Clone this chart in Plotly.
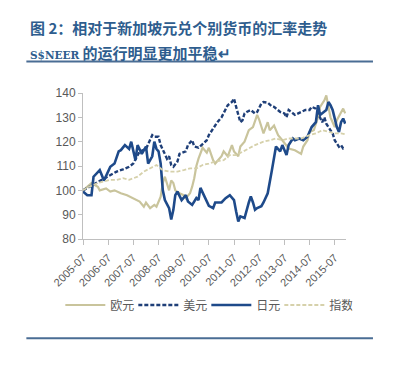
import plotly.graph_objects as go

# ---------------- data ----------------
jpy_dates = ["2005-07","2005-09","2005-11","2005-12","2006-03","2006-05","2006-08","2006-10","2006-12",
             "2007-01","2007-03","2007-05","2007-06","2007-07","2007-08","2007-09","2007-11","2008-01",
             "2008-02","2008-04","2008-05","2008-06","2008-07","2008-08","2008-09","2008-10","2008-12",
             "2009-01","2009-02","2009-03","2009-04","2009-06","2009-08","2009-09","2009-11","2010-01",
             "2010-02","2010-03","2010-05","2010-07","2010-09","2010-10","2011-01","2011-03","2011-05",
             "2011-06","2011-07","2011-08","2011-09","2011-10","2011-12","2012-02","2012-03","2012-04",
             "2012-05","2012-06","2012-08","2012-09","2012-11","2013-01","2013-02","2013-03","2013-05",
             "2013-06","2013-08","2013-09","2013-11","2013-12","2014-02","2014-04","2014-06","2014-07",
             "2014-08","2014-10","2014-11","2014-12","2015-01","2015-03","2015-04","2015-05","2015-06",
             "2015-08","2015-09","2015-10","2015-11","2015-12"]
jpy_vals = [99.5,98,98,105.6,108.3,104,109.7,111,116,
            116.5,118.6,117,120,116,112.4,118.6,115,118,
            111,114,120,117,116,111,100,96,92.7,
            88,92,98,99.5,96,98,95.4,94,96.8,
            96,101,97,93.6,92.7,95,95,96.8,98,
            96.8,96,91.3,87.2,89.3,88.6,95,97.5,95,
            92,92.7,93.5,95,98.8,108.3,113,118,116,
            118.6,114.5,118.6,121.3,120.6,121.3,120.6,122,124,
            126,128,135,131,131.6,133,136.3,135,133,
            126,124,128,129.5,127.4]

usd_dates = ["2005-07","2005-10","2006-02","2006-05","2006-08","2006-11","2007-02","2007-05","2007-07",
             "2007-10","2008-01","2008-02","2008-04","2008-05","2008-07","2008-08","2008-09","2008-11",
             "2008-12","2009-01","2009-02","2009-04","2009-05","2009-08","2009-09","2009-11","2009-12",
             "2010-02","2010-04","2010-06","2010-07","2010-09","2010-11","2011-01","2011-02","2011-04",
             "2011-06","2011-07","2011-08","2011-09","2011-10","2011-11","2011-12","2012-01","2012-03",
             "2012-05","2012-06","2012-08","2012-09","2012-11","2013-01","2013-02","2013-04","2013-05",
             "2013-07","2013-08","2013-09","2013-11","2013-12","2014-03","2014-05","2014-07","2014-08",
             "2014-10","2014-11","2015-01","2015-02","2015-03","2015-05","2015-06","2015-07","2015-09",
             "2015-10","2015-11","2015-12"]
usd_vals = [100,101.5,103.6,105,106.3,107.7,108.6,109.7,111,
            116,117,119,122.7,122,122,118.6,116.5,113,
            114,110.4,109.7,111.8,115,116,118.6,120.6,118,
            117.5,119,120.6,122.7,125.4,128,130,131.6,135,
            136.3,137.7,134.3,131.6,128,128.8,131.6,132.2,133,
            131.6,132.2,135.7,136.3,136,134.5,134.3,133,132.2,
            131.6,130,133,131.6,131,132.2,133,133,134.3,
            133.6,131.6,128,130,127.4,124.7,123.4,120.6,117.9,
            118.6,117.2,117.5]

eur_dates = ["2005-07","2005-09","2005-11","2006-02","2006-03","2006-06","2006-08","2006-10","2007-01",
             "2007-04","2007-07","2007-10","2007-12","2008-01","2008-03","2008-05","2008-06","2008-07",
             "2008-08","2008-09","2008-10","2008-12","2009-01","2009-02","2009-03","2009-05","2009-07",
             "2009-08","2009-10","2009-11","2009-12","2010-01","2010-02","2010-04","2010-06","2010-07",
             "2010-09","2010-10","2011-01","2011-02","2011-04","2011-06","2011-07","2011-09","2011-10",
             "2011-12","2012-01","2012-02","2012-04","2012-06","2012-07","2012-08","2012-09","2012-11",
             "2012-12","2013-02","2013-04","2013-06","2013-08","2013-09","2013-12","2014-01","2014-03",
             "2014-04","2014-06","2014-07","2014-09","2014-11","2014-12","2015-02","2015-03","2015-04",
             "2015-05","2015-06","2015-07","2015-08","2015-10","2015-11","2015-12"]
eur_vals = [100,101.5,103,101.5,100,100.8,99.5,100,98.8,
            98,96.8,95.4,93.3,95,92.7,94,93.3,95,
            97.4,103,105.6,100,104,103,100,98.8,98,
            96.8,98.8,101.5,105,110,113,117.5,115.5,117.5,
            112.4,111,114,116,114,118.6,116,114,118,
            120,122,124.7,126,131,129,126,123.4,128,
            124.7,126.6,122.7,120.6,118,117.2,116.5,116,115,
            118,120.6,124,124.7,130,134.3,137,139,134.3,
            130,128,126,128.8,131.6,133.6,131.6]

idx_dates = ["2005-07","2005-10","2006-02","2006-05","2006-08","2006-11","2007-02","2007-05","2007-09",
             "2007-12","2008-03","2008-05","2008-06","2008-08","2008-09","2008-12","2009-04","2009-07",
             "2009-10","2010-01","2010-04","2010-07","2010-10","2011-02","2011-05","2011-08","2011-11",
             "2012-02","2012-05","2012-09","2012-12","2013-03","2013-06","2013-09","2013-12","2014-03",
             "2014-07","2014-10","2015-01","2015-04","2015-07","2015-10","2015-12"]
idx_vals = [100,101.5,103,103.6,104.3,104.3,105,104.3,105.6,
            107.7,109,110,110.4,109,108.3,107.7,107.7,108.3,
            109,109,110.4,111,111.8,112.4,114.5,114.5,116,
            117.2,118.6,120,120.6,121.3,120.6,121.3,121.3,121.3,
            122.7,123.4,124.7,124,123.4,123.4,123]

series_names = ["欧元", "美元", "日元", "指数"]
x_tick_start = "2005-07-01"
x_range = ["2005-07-01", "2015-12-12"]
y_range = [80, 140]

title_line1 = "图 2：相对于新加坡元兑个别货币的汇率走势"
title_line2_a = "S$NEER"
title_line2_b = " 的运行明显更加平稳↵"

# ---------------- figure ----------------
fig = go.Figure()

fig.add_trace(go.Scatter(x=eur_dates, y=eur_vals, name=series_names[0], mode="lines",
                         line=dict(color="#c9c49c", width=2.2)))
fig.add_trace(go.Scatter(x=usd_dates, y=usd_vals, name=series_names[1], mode="lines",
                         line=dict(color="#1f3f78", width=2.4, dash="4px,2px")))
fig.add_trace(go.Scatter(x=jpy_dates, y=jpy_vals, name=series_names[2], mode="lines",
                         line=dict(color="#1e4a8a", width=2.6)))
fig.add_trace(go.Scatter(x=idx_dates, y=idx_vals, name=series_names[3], mode="lines",
                         line=dict(color="#d6d1ab", width=1.8, dash="4px,2px")))

W, H = 398, 365
OFF = 8  # the page body margin shifts the figure by 8px right and down
L, R, T, B = 82.7 - OFF, 346 - OFF, 92.7 - OFF, 239.3 - OFF
pw, ph = R - L, B - T

def px_x(p):
    return (p - OFF - L) / pw

def px_y(p):
    return (B - (p - OFF)) / ph

fig.update_layout(
    width=W, height=H,
    margin=dict(l=L, r=W - R, t=T, b=H - B, pad=0),
    paper_bgcolor="white", plot_bgcolor="white",
    font=dict(family="Liberation Sans, Arial, sans-serif", color="#595959", size=11),
    showlegend=True,
    legend=dict(orientation="h", x=px_x(60), xanchor="left",
                y=px_y(291), yanchor="top",
                font=dict(family="Noto Sans CJK SC", size=12, color="#595959"),
                itemwidth=40, tracegroupgap=0, entrywidth=18, entrywidthmode="pixels",
                bgcolor="rgba(0,0,0,0)"),
    xaxis=dict(type="date", range=x_range, tick0=x_tick_start, dtick="M12",
               tickformat="%Y-%m", tickangle=-45, showgrid=False, zeroline=False,
               showline=True, linecolor="#bfbfbf", linewidth=1,
               ticks="outside", ticklen=5, tickcolor="#bfbfbf", ticklabelstandoff=2,
               tickfont=dict(size=11, color="#595959")),
    yaxis=dict(range=y_range, dtick=10, showgrid=False, zeroline=False,
               showline=True, linecolor="#bfbfbf", linewidth=1,
               ticks="outside", ticklen=4, tickcolor="#bfbfbf",
               tickfont=dict(size=12, color="#595959")),
)

title_color = "#2e5d8e"
fig.add_annotation(xref="paper", yref="paper", x=px_x(28), y=px_y(27), xanchor="left", yanchor="middle",
                   text="<b>" + title_line1 + "</b>", showarrow=False,
                   font=dict(family="Noto Sans CJK SC", size=15, color=title_color))
fig.add_annotation(xref="paper", yref="paper", x=px_x(28), y=px_y(52), xanchor="left", yanchor="middle",
                   text="<b><span style='font-family:DejaVu Serif;font-size:10.5px'>" + title_line2_a +
                        "</span>" + title_line2_b + "</b>", showarrow=False,
                   font=dict(family="Noto Sans CJK SC", size=15, color=title_color))

fig.add_shape(type="line", xref="paper", yref="paper", x0=px_x(26), x1=px_x(373), y0=px_y(61), y1=px_y(61),
              line=dict(color="#4a6d94", width=2))
fig.add_shape(type="line", xref="paper", yref="paper", x0=px_x(26), x1=px_x(373), y0=px_y(339), y1=px_y(339),
              line=dict(color="#4a6d94", width=2))

fig.write_html("out.html")
